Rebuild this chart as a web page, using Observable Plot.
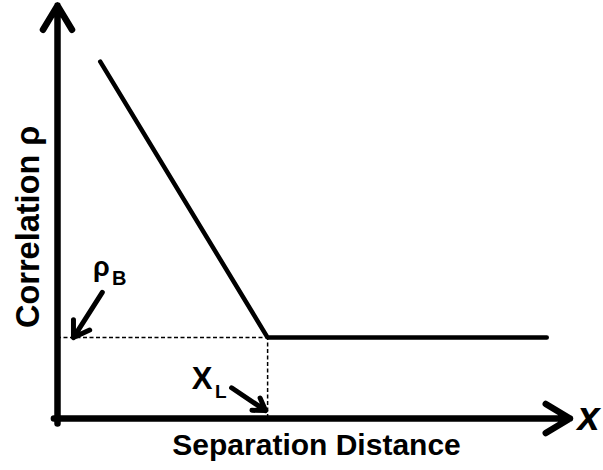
<!DOCTYPE html>
<html><head><meta charset="utf-8">
<script src="https://cdn.jsdelivr.net/npm/d3@7"></script>
<script src="https://cdn.jsdelivr.net/npm/@observablehq/plot@0.6"></script>
<style>body{margin:0;background:#fff}</style>
</head><body><div id="chart"></div>
<script>
// Model: correlation decreases linearly with separation distance until X_L, then stays at rho_B
const separation = [0.083, 0.408, 0.950];
const correlation = [0.86, 0.195, 0.195];
const xL = 0.408;
const rhoB = 0.195;
const xLabel = ["Separation Distance"];
const yLabel = ["Correlation ρ"];
const xSymbol = ["x"];
const rhoSymbol = ["ρ"], rhoSub = ["B"];
const xLSymbol = ["X"], xLSub = ["L"];

const curve = separation.map((s, i) => ({s, c: correlation[i]}));
const font = "'Liberation Sans', Arial, Helvetica, sans-serif";

const chart = Plot.plot({
  width: 603,
  height: 470,
  marginLeft: 57,
  marginRight: 31,
  marginTop: 3,
  marginBottom: 52,
  x: {domain: [0, 1], axis: null},
  y: {domain: [0, 1], axis: null},
  style: {fontFamily: font, background: "white", overflow: "visible"},
  marks: [
    // dashed guides
    Plot.ruleY([rhoB], {x1: 0, x2: xL, stroke: "black", strokeWidth: 1.5, strokeDasharray: "4,2.5"}),
    Plot.ruleX([xL], {y1: 0, y2: rhoB, stroke: "black", strokeWidth: 1.5, strokeDasharray: "4,2.5"}),
    // axes with arrowheads
    Plot.arrow([0], {x1: 0, y1: -0.012, x2: 0, y2: 0.995, stroke: "black", strokeWidth: 6.5, headLength: 6.5, headAngle: 62, strokeLinejoin: "round"}),
    Plot.arrow([0], {x1: -0.007, y1: 0, x2: 0.995, y2: 0, stroke: "black", strokeWidth: 6.5, headLength: 6.5, headAngle: 62, strokeLinejoin: "round"}),
    // correlation curve
    Plot.line(curve, {x: "s", y: "c", stroke: "black", strokeWidth: 4.5, strokeLinejoin: "miter"}),
    // pointer arrows
    Plot.arrow([0], {x1: 0.087, y1: 0.304, x2: 0.031, y2: rhoB, stroke: "black", strokeWidth: 5, headLength: 6, headAngle: 65}),
    Plot.arrow([0], {x1: 0.338, y1: 0.074, x2: 0.404, y2: 0.019, stroke: "black", strokeWidth: 5, headLength: 6, headAngle: 65}),
    // labels
    Plot.text(rhoSymbol, {x: 0.085, y: 0.363, fontSize: 27, fontWeight: "bold", fill: "black"}),
    Plot.text(rhoSub, {x: 0.106, y: 0.336, textAnchor: "start", fontSize: 20, fontWeight: "bold", fill: "black"}),
    Plot.text(xLSymbol, {x: 0.281, y: 0.096, fontSize: 31, fontWeight: "bold", fill: "black"}),
    Plot.text(xLSub, {x: 0.306, y: 0.063, textAnchor: "start", fontSize: 19, fontWeight: "bold", fill: "black"}),
    Plot.text(xSymbol, {x: 1.0097, y: 0.002, textAnchor: "start", fontSize: 40, fontWeight: "bold", fontStyle: "italic", fill: "black"}),
    Plot.text(xLabel, {x: 0.503, y: -0.066, fontSize: 30, fontWeight: "bold", fill: "black"}),
    Plot.text(yLabel, {x: -0.0555, y: 0.462, rotate: -90, fontSize: 32.5, fontWeight: "bold", fill: "black"})
  ]
});
document.getElementById("chart").append(chart);
</script>
</body></html>
